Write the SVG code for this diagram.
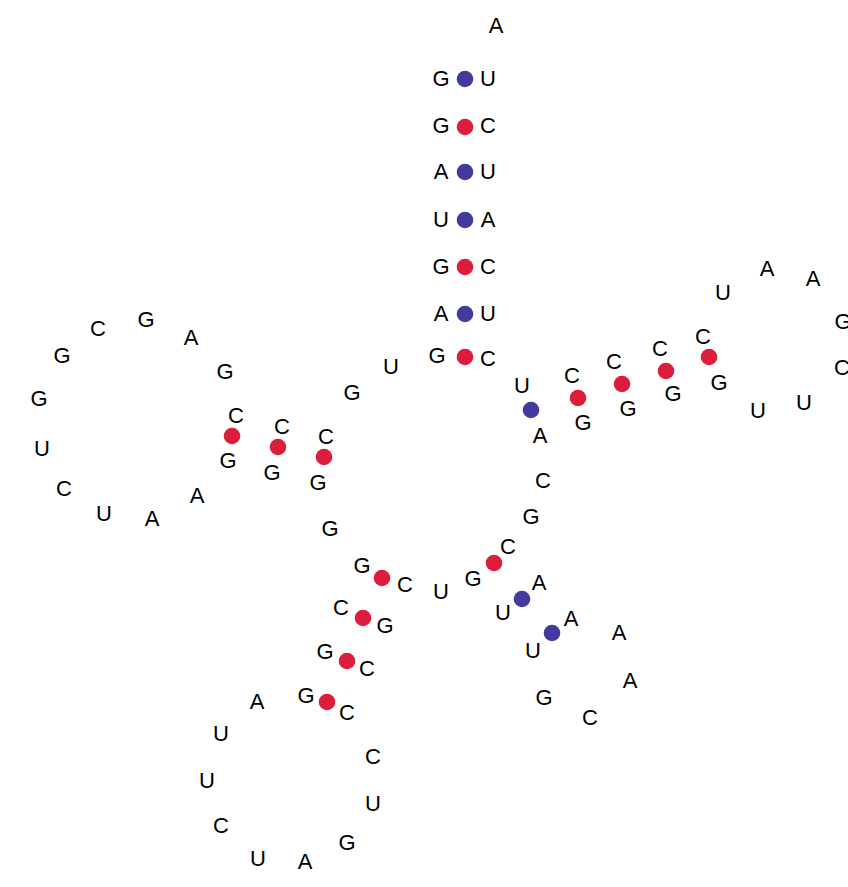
<svg xmlns="http://www.w3.org/2000/svg" width="848" height="887" viewBox="0 0 848 887">
<style>
text{font-family:"Liberation Sans",Arial,sans-serif;font-size:22px;fill:#000;text-anchor:middle}
.gc{fill:#dc1e3c}
.au{fill:#433a9e}
</style>
<rect width="848" height="887" fill="#fff"/>
<g id="connectors">
<circle class="au" cx="465" cy="79" r="8.3"/>
<circle class="gc" cx="465" cy="127" r="8.3"/>
<circle class="au" cx="465" cy="172" r="8.3"/>
<circle class="au" cx="465" cy="220" r="8.3"/>
<circle class="gc" cx="465" cy="267" r="8.3"/>
<circle class="au" cx="465" cy="314" r="8.3"/>
<circle class="gc" cx="465" cy="357" r="8.3"/>
<circle class="gc" cx="232" cy="436" r="8.3"/>
<circle class="gc" cx="278" cy="447" r="8.3"/>
<circle class="gc" cx="324" cy="457" r="8.3"/>
<circle class="au" cx="531" cy="410" r="8.3"/>
<circle class="gc" cx="578" cy="398" r="8.3"/>
<circle class="gc" cx="622" cy="384" r="8.3"/>
<circle class="gc" cx="666" cy="371" r="8.3"/>
<circle class="gc" cx="709" cy="357" r="8.3"/>
<circle class="gc" cx="494" cy="563" r="8.3"/>
<circle class="au" cx="522" cy="599" r="8.3"/>
<circle class="au" cx="552" cy="633" r="8.3"/>
<circle class="gc" cx="382" cy="578" r="8.3"/>
<circle class="gc" cx="363" cy="618" r="8.3"/>
<circle class="gc" cx="347" cy="661" r="8.3"/>
<circle class="gc" cx="327" cy="702" r="8.3"/>
</g>
<g id="nodes">
<g id="s1"><text x="441" y="86">G</text></g>
<g id="s2"><text x="441" y="133">G</text></g>
<g id="s3"><text x="441" y="179">A</text></g>
<g id="s4"><text x="441" y="227">U</text></g>
<g id="s5"><text x="441" y="274">G</text></g>
<g id="s6"><text x="441" y="321">A</text></g>
<g id="s7"><text x="437" y="363">G</text></g>
<g id="s8"><text x="391" y="374">U</text></g>
<g id="s9"><text x="352" y="400">G</text></g>
<g id="s10"><text x="326" y="444">C</text></g>
<g id="s11"><text x="282" y="434">C</text></g>
<g id="s12"><text x="236" y="423">C</text></g>
<g id="s13"><text x="225" y="379">G</text></g>
<g id="s14"><text x="191" y="345">A</text></g>
<g id="s15"><text x="146" y="327">G</text></g>
<g id="s16"><text x="98" y="336">C</text></g>
<g id="s17"><text x="62" y="363">G</text></g>
<g id="s18"><text x="39" y="406">G</text></g>
<g id="s19"><text x="42" y="456">U</text></g>
<g id="s20"><text x="64" y="496">C</text></g>
<g id="s21"><text x="104" y="521">U</text></g>
<g id="s22"><text x="152" y="526">A</text></g>
<g id="s23"><text x="197" y="503">A</text></g>
<g id="s24"><text x="228" y="468">G</text></g>
<g id="s25"><text x="272" y="480">G</text></g>
<g id="s26"><text x="318" y="490">G</text></g>
<g id="s27"><text x="330" y="536">G</text></g>
<g id="s28"><text x="362" y="573">G</text></g>
<g id="s29"><text x="341" y="615">C</text></g>
<g id="s30"><text x="325" y="659">G</text></g>
<g id="s31"><text x="306" y="703">G</text></g>
<g id="s32"><text x="257" y="709">A</text></g>
<g id="s33"><text x="221" y="741">U</text></g>
<g id="s34"><text x="207" y="788">U</text></g>
<g id="s35"><text x="221" y="833">C</text></g>
<g id="s36"><text x="258" y="866">U</text></g>
<g id="s37"><text x="305" y="869">A</text></g>
<g id="s38"><text x="347" y="850">G</text></g>
<g id="s39"><text x="373" y="811">U</text></g>
<g id="s40"><text x="373" y="764">C</text></g>
<g id="s41"><text x="347" y="720">C</text></g>
<g id="s42"><text x="367" y="676">C</text></g>
<g id="s43"><text x="385" y="633">G</text></g>
<g id="s44"><text x="405" y="592">C</text></g>
<g id="s45"><text x="441" y="599">U</text></g>
<g id="s46"><text x="473" y="586">G</text></g>
<g id="s47"><text x="503" y="620">U</text></g>
<g id="s48"><text x="533" y="658">U</text></g>
<g id="s49"><text x="544" y="705">G</text></g>
<g id="s50"><text x="590" y="725">C</text></g>
<g id="s51"><text x="630" y="688">A</text></g>
<g id="s52"><text x="619" y="640">A</text></g>
<g id="s53"><text x="571" y="626">A</text></g>
<g id="s54"><text x="539" y="590">A</text></g>
<g id="s55"><text x="508" y="554">C</text></g>
<g id="s56"><text x="531" y="524">G</text></g>
<g id="s57"><text x="543" y="488">C</text></g>
<g id="s58"><text x="540" y="443">A</text></g>
<g id="s59"><text x="583" y="430">G</text></g>
<g id="s60"><text x="628" y="416">G</text></g>
<g id="s61"><text x="673" y="401">G</text></g>
<g id="s62"><text x="719" y="390">G</text></g>
<g id="s63"><text x="758" y="418">U</text></g>
<g id="s64"><text x="804" y="410">U</text></g>
<g id="s65"><text x="842" y="375">C</text></g>
<g id="s66"><text x="843" y="329">G</text></g>
<g id="s67"><text x="813" y="286">A</text></g>
<g id="s68"><text x="767" y="276">A</text></g>
<g id="s69"><text x="723" y="300">U</text></g>
<g id="s70"><text x="703" y="344">C</text></g>
<g id="s71"><text x="660" y="356">C</text></g>
<g id="s72"><text x="614" y="369">C</text></g>
<g id="s73"><text x="572" y="383">C</text></g>
<g id="s74"><text x="522" y="393">U</text></g>
<g id="s75"><text x="488" y="366">C</text></g>
<g id="s76"><text x="488" y="321">U</text></g>
<g id="s77"><text x="488" y="274">C</text></g>
<g id="s78"><text x="488" y="227">A</text></g>
<g id="s79"><text x="488" y="179">U</text></g>
<g id="s80"><text x="488" y="133">C</text></g>
<g id="s81"><text x="488" y="86">U</text></g>
<g id="s82"><text x="496" y="33">A</text></g>
</g>
</svg>
